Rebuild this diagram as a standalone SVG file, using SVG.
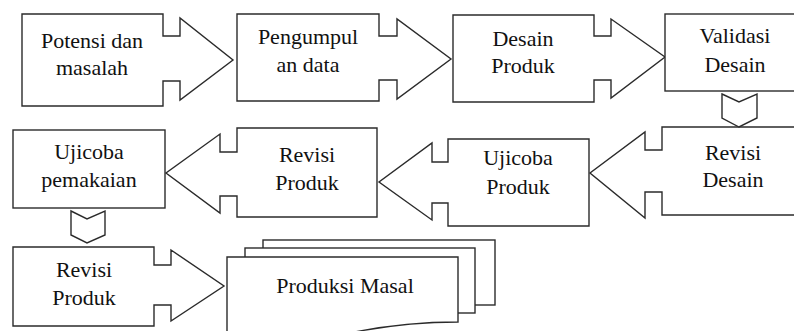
<svg xmlns="http://www.w3.org/2000/svg" width="794" height="331" viewBox="0 0 794 331">
<style>
.s{fill:#fff;stroke:#2b2b2b;stroke-width:1.4;stroke-linejoin:miter}
.t{font-family:"Liberation Serif","Times New Roman",serif;font-size:22px;fill:#111;text-anchor:middle}
</style>
<rect x="0" y="0" width="794" height="331" fill="#fff"/>
<g id="n1"><path class="s" d="M22,14 L163,14 L163,36 L180,36 L180,18 L233,60 L180,100 L180,81 L163,81 L163,106 L22,106 Z"/>
<text class="t" x="92" y="48">Potensi dan</text><text class="t" x="92" y="75">masalah</text></g>
<g id="n2"><path class="s" d="M237,14 L379,14 L379,36 L397,36 L397,19 L451,59 L397,99 L397,80 L379,80 L379,101 L237,101 Z"/>
<text class="t" x="308" y="44">Pengumpul</text><text class="t" x="308" y="72">an data</text></g>
<g id="n3"><path class="s" d="M453,15 L594,15 L594,36 L611,36 L611,19 L665,57 L611,98 L611,80 L594,80 L594,102 L453,102 Z"/>
<text class="t" x="523" y="46">Desain</text><text class="t" x="523" y="73">Produk</text></g>
<g id="n4"><rect class="s" x="665" y="14" width="145" height="77"/>
<text class="t" x="735" y="43">Validasi</text><text class="t" x="735" y="72">Desain</text></g>
<g id="n5"><path class="s" d="M810,127 L662,127 L662,150 L645,150 L645,132 L590,173 L645,218 L645,192 L662,192 L662,215 L810,215 Z"/>
<text class="t" x="733" y="160">Revisi</text><text class="t" x="733" y="187">Desain</text></g>
<g id="n6"><path class="s" d="M589,139 L448,139 L448,162 L432,162 L432,143 L379,182 L432,220 L432,203 L448,203 L448,226 L589,226 Z"/>
<text class="t" x="518" y="165">Ujicoba</text><text class="t" x="518" y="194">Produk</text></g>
<g id="n7"><path class="s" d="M377,128 L237,128 L237,152 L220,152 L220,134 L166,173 L220,213 L220,196 L237,196 L237,217 L377,217 Z"/>
<text class="t" x="307" y="162">Revisi</text><text class="t" x="307" y="190">Produk</text></g>
<g id="n8"><rect class="s" x="13" y="130" width="152" height="78"/>
<text class="t" x="89" y="159">Ujicoba</text><text class="t" x="89" y="187">pemakaian</text></g>
<g id="n9"><path class="s" d="M13,247 L154,247 L154,265 L171,265 L171,250 L224,286 L171,321 L171,305 L154,305 L154,326 L13,326 Z"/>
<text class="t" x="84" y="277">Revisi</text><text class="t" x="84" y="305">Produk</text></g>
<g id="n10">
<rect class="s" x="263" y="240" width="232" height="65"/>
<rect class="s" x="245" y="248" width="230" height="65"/>
<path class="s" d="M227,257 L458,257 L458,322 C418,322 382,326 345,334 L227,360 Z"/>
<text class="t" x="345" y="293">Produksi Masal</text></g>
<g id="connectors">
<path class="s" d="M722,94 L739,102 L757,94 L757,118 L739,127 L722,118 Z"/>
<path class="s" d="M71,211 L87,219 L105,211 L105,235 L87,243 L71,235 Z"/>
</g>
</svg>
